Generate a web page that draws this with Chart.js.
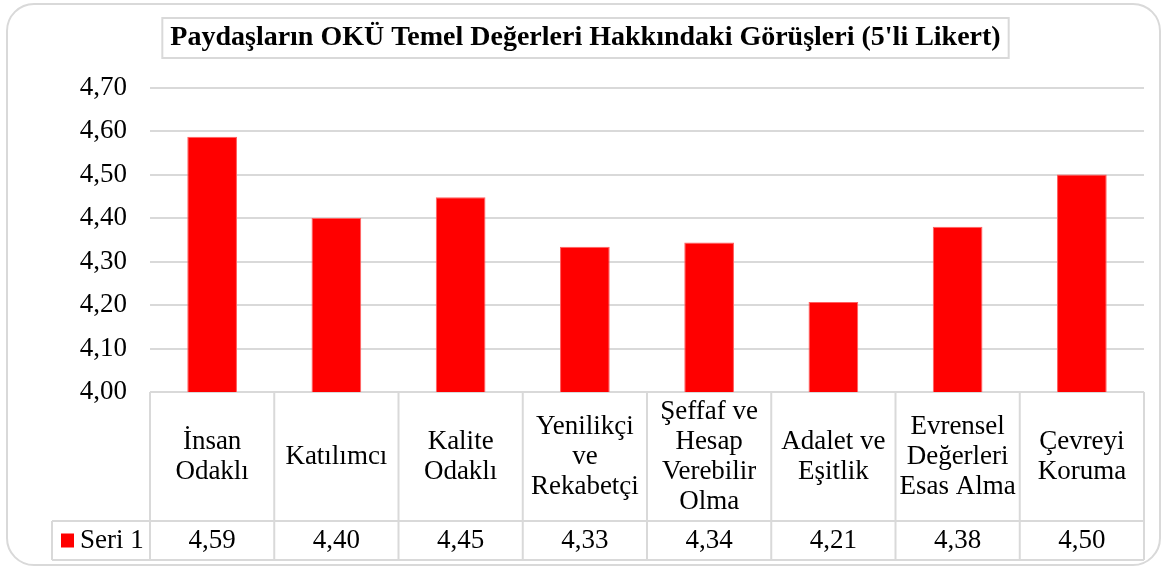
<!DOCTYPE html>
<html>
<head>
<meta charset="utf-8">
<script src="https://cdn.jsdelivr.net/npm/chart.js@4"></script>
<style>
  body { margin: 0; background: #fff; }
  #wrap { position: relative; width: 1167px; height: 569px; }
  #frame { position: absolute; left: 6px; top: 3px; width: 1151px; height: 559px;
           border: 2px solid #d9d9d9; border-radius: 28px; pointer-events: none; }
  canvas { position: absolute; left: 0; top: 0; }
</style>
</head>
<body>
<div id="wrap">
  <canvas id="myChart" width="1167" height="569"></canvas>
  <div id="frame"></div>
</div>
<script>
const chartTitle = "Paydaşların OKÜ Temel Değerleri Hakkındaki Görüşleri (5'li Likert)";
const seriesName = 'Seri 1';
const categories = [
    ['İnsan', 'Odaklı'],
    ['Katılımcı'],
    ['Kalite', 'Odaklı'],
    ['Yenilikçi', 've', 'Rekabetçi'],
    ['Şeffaf ve', 'Hesap', 'Verebilir', 'Olma'],
    ['Adalet ve', 'Eşitlik'],
    ['Evrensel', 'Değerleri', 'Esas Alma'],
    ['Çevreyi', 'Koruma']
];
const values = [4.587, 4.40, 4.448, 4.334, 4.344, 4.207, 4.38, 4.50];

const fontFamily = "'Liberation Serif', 'Times New Roman', serif";
const gridColor = '#d9d9d9';

function fmt(v) {
    return v.toFixed(2).replace('.', ',');
}

// draws the title box and the data table under the plot
const tablePlugin = {
    id: 'dataTable',
    afterDraw(chart) {
        const ctx = chart.ctx;
        const area = chart.chartArea;
        const x = chart.scales.x;
        const colW = (area.right - area.left) / categories.length;
        const top = area.bottom;
        const mid = top + 129;
        const bottom = mid + 39;
        const legendLeft = 52;

        ctx.save();
        ctx.strokeStyle = gridColor;
        ctx.lineWidth = 2;

        // title box
        ctx.font = 'bold 28px ' + fontFamily;
        const tw = ctx.measureText(chartTitle).width;
        const cx = (chart.titleBlock.left + chart.titleBlock.right) / 2;
        ctx.strokeRect(cx - tw / 2 - 8, 18, tw + 16, 40);

        // table lines
        ctx.beginPath();
        ctx.moveTo(legendLeft, mid); ctx.lineTo(area.right, mid);
        ctx.moveTo(legendLeft, bottom); ctx.lineTo(area.right, bottom);
        ctx.moveTo(legendLeft, mid); ctx.lineTo(legendLeft, bottom);
        for (let i = 0; i <= categories.length; i++) {
            const bx = area.left + i * colW;
            ctx.moveTo(bx, top); ctx.lineTo(bx, bottom);
        }
        ctx.stroke();

        // text
        ctx.fillStyle = '#000';
        ctx.font = '27px ' + fontFamily;
        ctx.textAlign = 'center';
        ctx.textBaseline = 'middle';
        const lineH = 30;
        categories.forEach((lines, i) => {
            const px = x.getPixelForValue(i);
            const cy = (top + mid) / 2 - (lines.length - 1) * lineH / 2;
            lines.forEach((t, j) => ctx.fillText(t, px, cy + j * lineH));
            ctx.fillText(fmt(values[i]), px, (mid + bottom) / 2);
        });

        // legend key
        ctx.fillStyle = '#ff0000';
        ctx.fillRect(61, (mid + bottom) / 2 - 7, 13, 14);
        ctx.fillStyle = '#000';
        ctx.textAlign = 'left';
        ctx.fillText(seriesName, 80, (mid + bottom) / 2);
        ctx.restore();
    }
};

const ctx = document.getElementById('myChart').getContext('2d');
const myChart = new Chart(ctx, {
    type: 'bar',
    data: {
        labels: categories,
        datasets: [{
            label: seriesName,
            data: values,
            backgroundColor: '#ff0000',
            borderColor: '#ff6060',
            borderWidth: 1,
            barPercentage: 0.4,
            categoryPercentage: 1
        }]
    },
    options: {
        responsive: false,
        animation: false,
        layout: {
            padding: { top: 0, left: 27, right: 23, bottom: 177 }
        },
        plugins: {
            legend: { display: false },
            tooltip: { enabled: false },
            title: {
                display: true,
                text: chartTitle,
                color: '#000',
                font: { family: fontFamily, size: 28, weight: 'bold' },
                padding: { top: 21, bottom: 33 }
            }
        },
        scales: {
            x: {
                display: false
            },
            y: {
                min: 4,
                max: 4.7,
                ticks: {
                    stepSize: 0.1,
                    color: '#000',
                    padding: 23,
                    font: { family: fontFamily, size: 27 },
                    callback: (v) => fmt(v)
                },
                grid: { color: gridColor, lineWidth: 2, drawTicks: false },
                border: { display: false },
                afterFit: (s) => { s.width = 123; }
            }
        }
    },
    plugins: [tablePlugin]
});
</script>
</body>
</html>
